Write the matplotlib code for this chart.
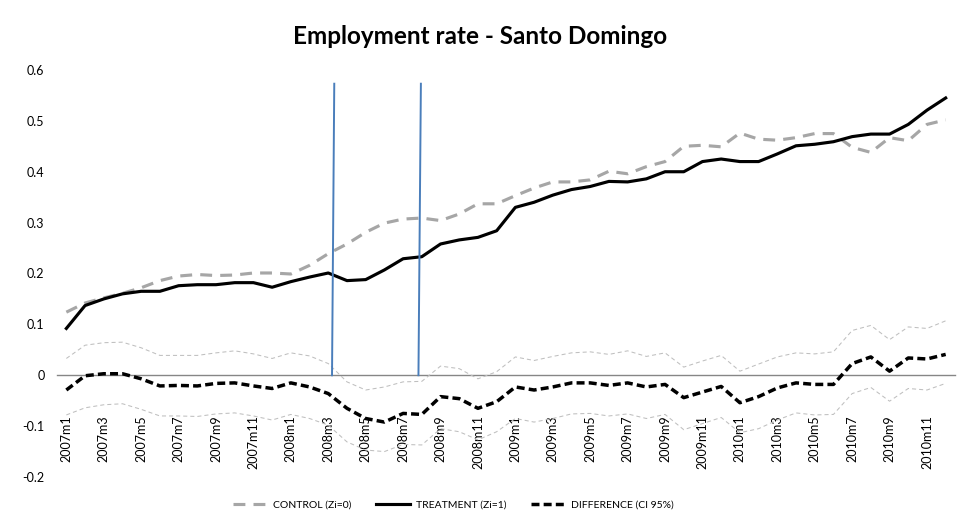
import matplotlib.pyplot as plt
from matplotlib.ticker import FuncFormatter

plt.rcParams['font.family'] = ['Lato', 'DejaVu Sans']

# monthly categories 2007m1 .. 2010m12
months = ['%dm%d' % (y, m) for y in range(2007, 2011) for m in range(1, 13)]

control = [0.124, 0.142, 0.152, 0.161, 0.172, 0.186, 0.195, 0.198, 0.196, 0.197,
           0.201, 0.201, 0.199, 0.216, 0.239, 0.258, 0.281, 0.299, 0.307, 0.309,
           0.304, 0.317, 0.337, 0.337, 0.353, 0.368, 0.380, 0.380, 0.384, 0.401,
           0.396, 0.410, 0.420, 0.450, 0.452, 0.449, 0.476, 0.464, 0.462, 0.467,
           0.475, 0.475, 0.448, 0.438, 0.467, 0.461, 0.493, 0.502]

treatment = [0.092, 0.137, 0.150, 0.160, 0.165, 0.165, 0.176, 0.178, 0.178, 0.182,
             0.182, 0.173, 0.184, 0.193, 0.201, 0.186, 0.188, 0.207, 0.229, 0.233,
             0.258, 0.266, 0.271, 0.284, 0.330, 0.340, 0.354, 0.365, 0.371, 0.381,
             0.380, 0.386, 0.400, 0.400, 0.420, 0.425, 0.420, 0.420, 0.435, 0.451,
             0.454, 0.459, 0.469, 0.474, 0.474, 0.493, 0.521, 0.545]

difference = [-0.029, -0.001, 0.003, 0.003, -0.007, -0.021, -0.020, -0.021, -0.016, -0.015,
              -0.021, -0.026, -0.015, -0.023, -0.036, -0.065, -0.085, -0.092, -0.075, -0.077,
              -0.042, -0.046, -0.065, -0.052, -0.023, -0.029, -0.023, -0.015, -0.015, -0.020,
              -0.015, -0.023, -0.018, -0.044, -0.033, -0.022, -0.054, -0.042, -0.025, -0.015,
              -0.018, -0.018, 0.023, 0.036, 0.008, 0.034, 0.032, 0.041]

ci_upper = [0.033, 0.059, 0.064, 0.065, 0.054, 0.039, 0.039, 0.039, 0.044, 0.048,
            0.042, 0.033, 0.044, 0.038, 0.023, -0.013, -0.029, -0.023, -0.013, -0.012,
            0.018, 0.013, -0.007, 0.007, 0.036, 0.029, 0.037, 0.044, 0.046, 0.041,
            0.048, 0.037, 0.044, 0.016, 0.028, 0.039, 0.008, 0.022, 0.036, 0.044,
            0.042, 0.046, 0.088, 0.098, 0.070, 0.095, 0.092, 0.107]

ci_lower = [-0.078, -0.064, -0.058, -0.056, -0.067, -0.080, -0.080, -0.081, -0.076, -0.074,
            -0.080, -0.088, -0.077, -0.085, -0.098, -0.131, -0.147, -0.150, -0.136, -0.137,
            -0.105, -0.111, -0.127, -0.111, -0.085, -0.092, -0.085, -0.076, -0.075, -0.080,
            -0.076, -0.085, -0.077, -0.107, -0.095, -0.083, -0.113, -0.105, -0.088, -0.074,
            -0.078, -0.077, -0.036, -0.024, -0.051, -0.026, -0.029, -0.016]

# the two hand-drawn vertical markers (x in month index, y in rate)
marker1_x = [14.2, 14.32]
marker2_x = [18.82, 18.95]
marker_y = [0.0, 0.573]

x = list(range(len(months)))

fig = plt.figure(figsize=(9.61, 5.25), dpi=100)
ax = fig.add_axes([0.0593, 0.0914, 0.9345, 0.7753])

ax.plot(x, ci_upper, color='#BFBFBF', lw=0.75, dashes=(3.9, 2.9))
ax.plot(x, ci_lower, color='#BFBFBF', lw=0.75, dashes=(3.9, 2.9))
ax.plot(x, control, color='#A6A6A6', lw=2.25, dashes=(3.8, 2.6),
        dash_capstyle='butt', label='CONTROL (Zi=0)')
ax.plot(x, treatment, color='black', lw=2.25, label='TREATMENT (Zi=1)')
ax.plot(x, difference, color='black', lw=2.5, dashes=(2.3, 1.2),
        dash_capstyle='butt', label='DIFFERENCE (CI 95%)')

ax.plot(marker1_x, marker_y, color='#4A7EBB', lw=1.4)
ax.plot(marker2_x, marker_y, color='#4A7EBB', lw=1.4)

for s in ['top', 'right', 'left']:
    ax.spines[s].set_visible(False)
ax.spines['bottom'].set_position(('data', 0))
ax.spines['bottom'].set_color('#868686')
ax.spines['bottom'].set_linewidth(1.0)
ax.spines['bottom'].set_zorder(0.5)

ax.set_xlim(-0.5, len(months) - 0.5)
ax.set_ylim(-0.2, 0.6)
ax.set_yticks([-0.2, -0.1, 0, 0.1, 0.2, 0.3, 0.4, 0.5, 0.6])
ax.yaxis.set_major_formatter(FuncFormatter(lambda v, p: '0' if abs(v) < 1e-9 else '%.1f' % v))
ax.set_xticks(x[::2])
ax.set_xticklabels(months[::2])

ax.tick_params(axis='x', length=0, pad=29, labelsize=9, labelrotation=90)
ax.tick_params(axis='y', length=0, pad=9, labelsize=9)

fig.text(0.5, 1 - 36 / 525, 'Employment rate - Santo Domingo',
         ha='center', va='center', fontsize=17.5, fontweight='bold')

fig.legend(loc='center', bbox_to_anchor=(0.472, 0.038), ncol=3, frameon=False,
           fontsize=7.5, handlelength=3.2, columnspacing=2.4, handletextpad=0.6)

fig.savefig('out.png', dpi=100)
